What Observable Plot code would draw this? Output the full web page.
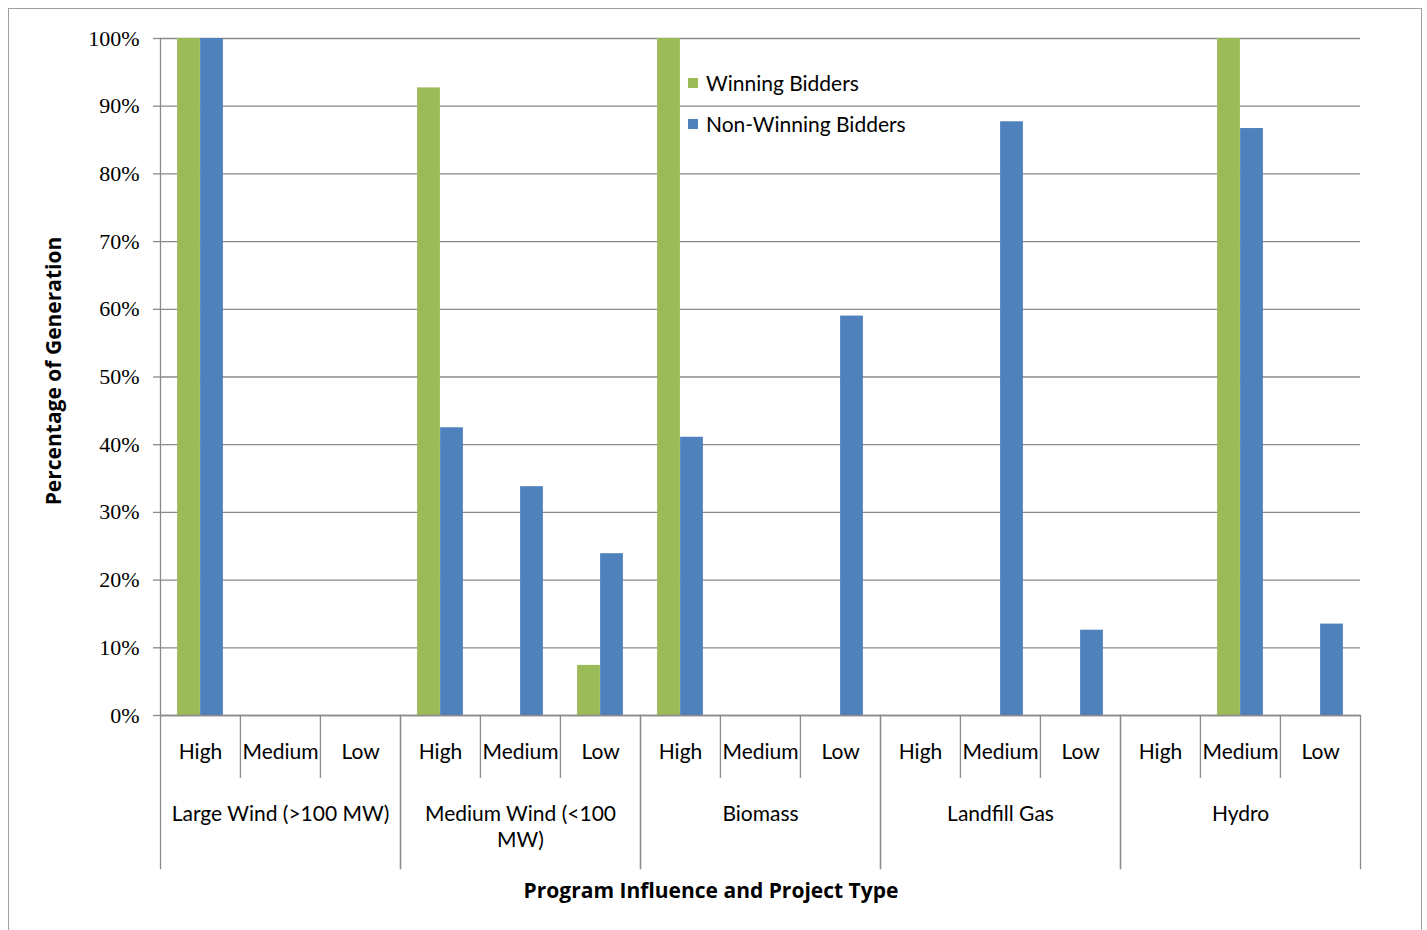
<!DOCTYPE html>
<html><head><meta charset="utf-8">
<script src="https://cdn.jsdelivr.net/npm/d3@7"></script>
<script src="https://cdn.jsdelivr.net/npm/@observablehq/plot@0.6"></script>
<style>
body{margin:0;background:#fff;}
#wrap{position:relative;width:1427px;height:930px;overflow:hidden;background:#fff;}
#border{position:absolute;left:8px;top:8px;width:1414px;height:960px;border:1.5px solid #a0a0a0;box-sizing:border-box;}
#chart{position:absolute;left:0;top:0;}
#xtitle{position:absolute;top:877px;left:0;width:1422px;text-align:center;font-family:"Open Sans",sans-serif;font-weight:bold;font-size:21px;color:#000;line-height:26px;}
.leg{position:absolute;left:688px;font-family:Lato,sans-serif;font-size:21px;color:#000;display:flex;align-items:center;line-height:26px;}
.leg span.sw{display:inline-block;width:10px;height:10px;margin-right:8px;}
</style>
</head><body>
<div id="wrap">
  <div id="chart"></div>
  <div id="border"></div>
  <div class="leg" style="top:70px"><span class="sw" style="background:#9BBB59"></span>Winning Bidders</div>
  <div class="leg" style="top:111px"><span class="sw" style="background:#4F81BD"></span>Non-Winning Bidders</div>
  <div id="xtitle">Program Influence and Project Type</div>
</div>
<script>
const groups = ["Large Wind (>100 MW)", "Medium Wind (<100 MW)", "Biomass", "Landfill Gas", "Hydro"];
const groupLabels = ["Large Wind (>100 MW)", "Medium Wind (<100\nMW)", "Biomass", "Landfill Gas", "Hydro"];
const levels = ["High", "Medium", "Low"];
const winning    = [100, 0, 0,   92.7, 0, 7.4,     100, 0, 0,    0, 0, 0,      0, 100, 0];
const nonWinning = [100, 0, 0,   42.5, 33.8, 23.9, 41.1, 0, 59.0, 0, 87.7, 12.6, 0, 86.7, 13.5];
const yTicks = [0, 10, 20, 30, 40, 50, 60, 70, 80, 90, 100];
const yTitle = ["Percentage of Generation"];

const rows = groups.flatMap((g, i) => levels.map((l, j) => ({
  group: g, level: l, win: winning[i * 3 + j], non: nonWinning[i * 3 + j]
})));

const W = 1427, H = 930, mL = 158, mR = 66, mT = 38, mB = 215;
const plotH = H - mT - mB;
const facetW = (W - mL - mR) / groups.length;
const step = facetW / levels.length;
const barW = 23;
const grey = "#8a8a8a";

const chart = Plot.plot({
  width: W, height: H,
  marginLeft: mL, marginRight: mR, marginTop: mT, marginBottom: mB,
  style: {fontFamily: "Lato, sans-serif", fontSize: "21px", color: "#000", background: "transparent", overflow: "visible"},
  fx: {domain: groups, padding: 0, label: null},
  x: {domain: levels, padding: 0, label: null},
  y: {domain: [0, 100], label: null},
  marks: [
    Plot.gridY(yTicks, {stroke: grey, strokeOpacity: 1, strokeWidth: 1.3}),
    Plot.axisY(yTicks, {tickFormat: d => d + "%", tickSize: 7, tickPadding: 14, stroke: grey, strokeWidth: 1.3,
      fontFamily: "Liberation Serif, serif", fontSize: 22, label: null}),
    Plot.text(yTitle, {text: d => d, frameAnchor: "left", textAnchor: "middle", rotate: -90, dx: -106, dy: -6,
      fontFamily: "Open Sans, sans-serif", fontWeight: "bold", fontSize: 21, facetAnchor: "left"}),
    Plot.barY(rows, {fx: "group", x: "level", y: "win", fill: "#9BBB59",
      insetLeft: step / 2 - barW, insetRight: step / 2}),
    Plot.barY(rows, {fx: "group", x: "level", y: "non", fill: "#4F81BD",
      insetLeft: step / 2, insetRight: step / 2 - barW}),
    Plot.ruleY([0], {stroke: grey, strokeWidth: 1.3}),
    Plot.frame({anchor: "left", stroke: grey, strokeWidth: 1.3, facetAnchor: "left"}),
    Plot.frame({anchor: "left", stroke: grey, strokeWidth: 1.3, insetTop: plotH, insetBottom: -153}),
    Plot.frame({anchor: "right", stroke: grey, strokeWidth: 1.3, insetTop: plotH, insetBottom: -153}),
    Plot.ruleX(levels.slice(1), {x: d => d, dx: -step / 2, stroke: grey, strokeWidth: 1.3, insetTop: plotH, insetBottom: -63}),
    Plot.axisX({tickSize: 0, tickPadding: 29, fontSize: 21, label: null}),
    Plot.axisFx({anchor: "bottom", tickSize: 0, tickPadding: 87, fontSize: 21, lineHeight: 1.25, label: null,
      tickFormat: g => groupLabels[groups.indexOf(g)]})
  ]
});
document.getElementById("chart").appendChild(chart);
</script>
</body></html>
